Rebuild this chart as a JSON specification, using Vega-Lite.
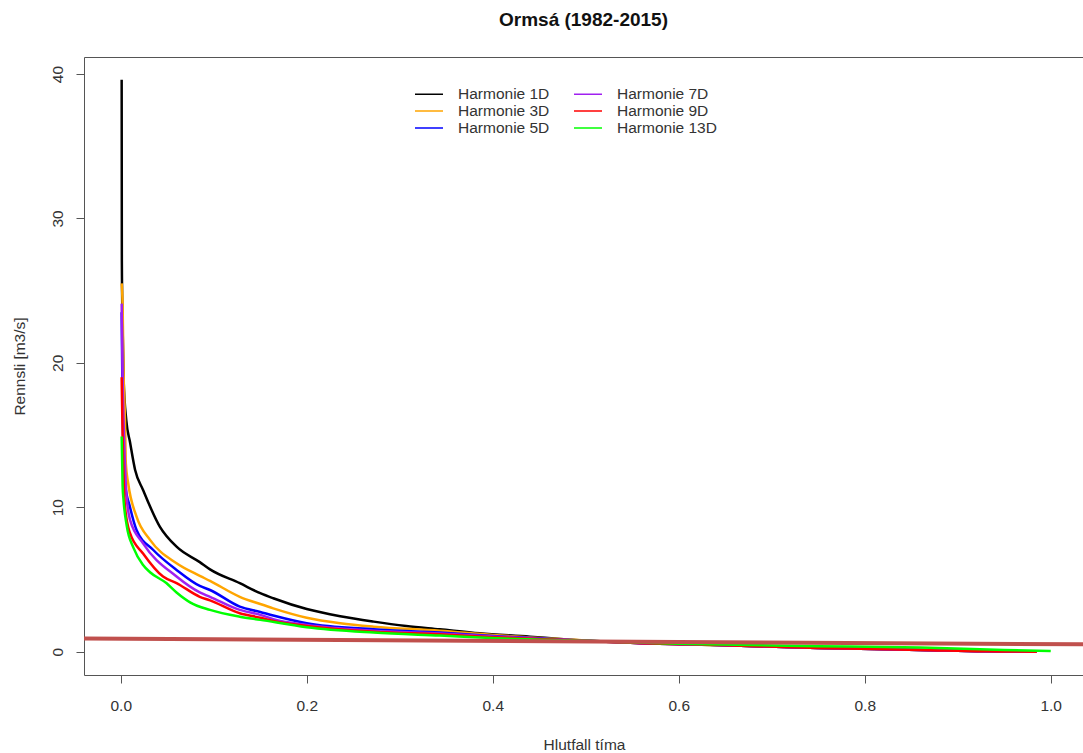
{
  "$schema": "https://vega.github.io/schema/vega-lite/v6.json",
  "autosize": {"type": "none"},
  "padding": {"left": 84, "top": 57, "right": 0, "bottom": 78},
  "width": 999,
  "height": 618,
  "title": {"text": "Ormsá (1982-2015)", "font": "Liberation Sans", "fontSize": 19, "fontWeight": "bold", "color": "#111", "anchor": "middle", "baseline": "alphabetic", "offset": 12},
  "datasets": {
    "fdc": [
      {"s": "Harmonie 1D", "p": 0.001, "q": 39.6},
      {"s": "Harmonie 1D", "p": 0.0012, "q": 27.1},
      {"s": "Harmonie 1D", "p": 0.002, "q": 22.5},
      {"s": "Harmonie 1D", "p": 0.003, "q": 19.0},
      {"s": "Harmonie 1D", "p": 0.006, "q": 16.0},
      {"s": "Harmonie 1D", "p": 0.010, "q": 14.5},
      {"s": "Harmonie 1D", "p": 0.0154, "q": 12.6},
      {"s": "Harmonie 1D", "p": 0.024, "q": 11.2},
      {"s": "Harmonie 1D", "p": 0.042, "q": 8.66},
      {"s": "Harmonie 1D", "p": 0.06, "q": 7.27},
      {"s": "Harmonie 1D", "p": 0.085, "q": 6.2},
      {"s": "Harmonie 1D", "p": 0.096, "q": 5.7},
      {"s": "Harmonie 1D", "p": 0.128, "q": 4.74},
      {"s": "Harmonie 1D", "p": 0.15, "q": 4.05},
      {"s": "Harmonie 1D", "p": 0.164, "q": 3.7},
      {"s": "Harmonie 1D", "p": 0.2, "q": 2.95},
      {"s": "Harmonie 1D", "p": 0.236, "q": 2.45},
      {"s": "Harmonie 1D", "p": 0.272, "q": 2.08},
      {"s": "Harmonie 1D", "p": 0.307, "q": 1.78},
      {"s": "Harmonie 1D", "p": 0.343, "q": 1.55},
      {"s": "Harmonie 1D", "p": 0.386, "q": 1.27},
      {"s": "Harmonie 1D", "p": 0.44, "q": 1.04},
      {"s": "Harmonie 1D", "p": 0.476, "q": 0.86},
      {"s": "Harmonie 1D", "p": 0.555, "q": 0.6},
      {"s": "Harmonie 1D", "p": 0.65, "q": 0.45},
      {"s": "Harmonie 1D", "p": 0.75, "q": 0.25},
      {"s": "Harmonie 1D", "p": 0.86, "q": 0.12},
      {"s": "Harmonie 1D", "p": 0.93, "q": 0.02},
      {"s": "Harmonie 1D", "p": 0.985, "q": 0.0},

      {"s": "Harmonie 3D", "p": 0.001, "q": 25.5},
      {"s": "Harmonie 3D", "p": 0.002, "q": 24.0},
      {"s": "Harmonie 3D", "p": 0.003, "q": 19.5},
      {"s": "Harmonie 3D", "p": 0.0046, "q": 16.0},
      {"s": "Harmonie 3D", "p": 0.0055, "q": 13.0},
      {"s": "Harmonie 3D", "p": 0.008, "q": 11.66},
      {"s": "Harmonie 3D", "p": 0.017, "q": 9.35},
      {"s": "Harmonie 3D", "p": 0.0315, "q": 7.74},
      {"s": "Harmonie 3D", "p": 0.06, "q": 6.12},
      {"s": "Harmonie 3D", "p": 0.085, "q": 5.25},
      {"s": "Harmonie 3D", "p": 0.096, "q": 4.9},
      {"s": "Harmonie 3D", "p": 0.128, "q": 3.8},
      {"s": "Harmonie 3D", "p": 0.15, "q": 3.3},
      {"s": "Harmonie 3D", "p": 0.164, "q": 3.0},
      {"s": "Harmonie 3D", "p": 0.2, "q": 2.35},
      {"s": "Harmonie 3D", "p": 0.236, "q": 1.97},
      {"s": "Harmonie 3D", "p": 0.272, "q": 1.73},
      {"s": "Harmonie 3D", "p": 0.343, "q": 1.45},
      {"s": "Harmonie 3D", "p": 0.4, "q": 1.15},
      {"s": "Harmonie 3D", "p": 0.45, "q": 0.95},
      {"s": "Harmonie 3D", "p": 0.5, "q": 0.78},
      {"s": "Harmonie 3D", "p": 0.555, "q": 0.6},
      {"s": "Harmonie 3D", "p": 0.65, "q": 0.45},
      {"s": "Harmonie 3D", "p": 0.75, "q": 0.25},
      {"s": "Harmonie 3D", "p": 0.86, "q": 0.12},
      {"s": "Harmonie 3D", "p": 0.93, "q": 0.02},
      {"s": "Harmonie 3D", "p": 0.985, "q": 0.0},

      {"s": "Harmonie 5D", "p": 0.001, "q": 23.5},
      {"s": "Harmonie 5D", "p": 0.002, "q": 17.0},
      {"s": "Harmonie 5D", "p": 0.0035, "q": 13.0},
      {"s": "Harmonie 5D", "p": 0.0046, "q": 11.66},
      {"s": "Harmonie 5D", "p": 0.010, "q": 10.0},
      {"s": "Harmonie 5D", "p": 0.017, "q": 8.43},
      {"s": "Harmonie 5D", "p": 0.035, "q": 7.04},
      {"s": "Harmonie 5D", "p": 0.06, "q": 5.66},
      {"s": "Harmonie 5D", "p": 0.085, "q": 4.55},
      {"s": "Harmonie 5D", "p": 0.096, "q": 4.27},
      {"s": "Harmonie 5D", "p": 0.128, "q": 3.12},
      {"s": "Harmonie 5D", "p": 0.15, "q": 2.75},
      {"s": "Harmonie 5D", "p": 0.164, "q": 2.5},
      {"s": "Harmonie 5D", "p": 0.2, "q": 1.97},
      {"s": "Harmonie 5D", "p": 0.272, "q": 1.55},
      {"s": "Harmonie 5D", "p": 0.343, "q": 1.32},
      {"s": "Harmonie 5D", "p": 0.4, "q": 1.08},
      {"s": "Harmonie 5D", "p": 0.45, "q": 0.92},
      {"s": "Harmonie 5D", "p": 0.5, "q": 0.76},
      {"s": "Harmonie 5D", "p": 0.555, "q": 0.6},
      {"s": "Harmonie 5D", "p": 0.65, "q": 0.45},
      {"s": "Harmonie 5D", "p": 0.75, "q": 0.25},
      {"s": "Harmonie 5D", "p": 0.86, "q": 0.12},
      {"s": "Harmonie 5D", "p": 0.93, "q": 0.02},
      {"s": "Harmonie 5D", "p": 0.985, "q": 0.0},

      {"s": "Harmonie 7D", "p": 0.001, "q": 24.1},
      {"s": "Harmonie 7D", "p": 0.002, "q": 19.0},
      {"s": "Harmonie 7D", "p": 0.004, "q": 14.0},
      {"s": "Harmonie 7D", "p": 0.006, "q": 11.0},
      {"s": "Harmonie 7D", "p": 0.010, "q": 9.12},
      {"s": "Harmonie 7D", "p": 0.024, "q": 7.5},
      {"s": "Harmonie 7D", "p": 0.06, "q": 5.2},
      {"s": "Harmonie 7D", "p": 0.085, "q": 4.1},
      {"s": "Harmonie 7D", "p": 0.096, "q": 3.8},
      {"s": "Harmonie 7D", "p": 0.128, "q": 2.89},
      {"s": "Harmonie 7D", "p": 0.15, "q": 2.55},
      {"s": "Harmonie 7D", "p": 0.164, "q": 2.25},
      {"s": "Harmonie 7D", "p": 0.2, "q": 1.85},
      {"s": "Harmonie 7D", "p": 0.272, "q": 1.45},
      {"s": "Harmonie 7D", "p": 0.343, "q": 1.25},
      {"s": "Harmonie 7D", "p": 0.4, "q": 1.05},
      {"s": "Harmonie 7D", "p": 0.45, "q": 0.9},
      {"s": "Harmonie 7D", "p": 0.5, "q": 0.75},
      {"s": "Harmonie 7D", "p": 0.555, "q": 0.6},
      {"s": "Harmonie 7D", "p": 0.65, "q": 0.45},
      {"s": "Harmonie 7D", "p": 0.75, "q": 0.25},
      {"s": "Harmonie 7D", "p": 0.86, "q": 0.12},
      {"s": "Harmonie 7D", "p": 0.93, "q": 0.02},
      {"s": "Harmonie 7D", "p": 0.985, "q": 0.0},

      {"s": "Harmonie 9D", "p": 0.001, "q": 19.0},
      {"s": "Harmonie 9D", "p": 0.002, "q": 15.0},
      {"s": "Harmonie 9D", "p": 0.0046, "q": 10.0},
      {"s": "Harmonie 9D", "p": 0.010, "q": 8.2},
      {"s": "Harmonie 9D", "p": 0.024, "q": 6.8},
      {"s": "Harmonie 9D", "p": 0.0455, "q": 5.2},
      {"s": "Harmonie 9D", "p": 0.06, "q": 4.75},
      {"s": "Harmonie 9D", "p": 0.085, "q": 3.8},
      {"s": "Harmonie 9D", "p": 0.096, "q": 3.55},
      {"s": "Harmonie 9D", "p": 0.128, "q": 2.66},
      {"s": "Harmonie 9D", "p": 0.15, "q": 2.35},
      {"s": "Harmonie 9D", "p": 0.164, "q": 2.12},
      {"s": "Harmonie 9D", "p": 0.2, "q": 1.78},
      {"s": "Harmonie 9D", "p": 0.272, "q": 1.38},
      {"s": "Harmonie 9D", "p": 0.343, "q": 1.2},
      {"s": "Harmonie 9D", "p": 0.4, "q": 1.0},
      {"s": "Harmonie 9D", "p": 0.45, "q": 0.88},
      {"s": "Harmonie 9D", "p": 0.5, "q": 0.74},
      {"s": "Harmonie 9D", "p": 0.555, "q": 0.6},
      {"s": "Harmonie 9D", "p": 0.65, "q": 0.45},
      {"s": "Harmonie 9D", "p": 0.75, "q": 0.25},
      {"s": "Harmonie 9D", "p": 0.86, "q": 0.12},
      {"s": "Harmonie 9D", "p": 0.93, "q": 0.02},
      {"s": "Harmonie 9D", "p": 0.985, "q": 0.0},

      {"s": "Harmonie 13D", "p": 0.001, "q": 14.9},
      {"s": "Harmonie 13D", "p": 0.002, "q": 11.5},
      {"s": "Harmonie 13D", "p": 0.003, "q": 10.5},
      {"s": "Harmonie 13D", "p": 0.0065, "q": 8.7},
      {"s": "Harmonie 13D", "p": 0.0136, "q": 7.2},
      {"s": "Harmonie 13D", "p": 0.024, "q": 6.0},
      {"s": "Harmonie 13D", "p": 0.0315, "q": 5.5},
      {"s": "Harmonie 13D", "p": 0.049, "q": 4.75},
      {"s": "Harmonie 13D", "p": 0.06, "q": 4.1},
      {"s": "Harmonie 13D", "p": 0.075, "q": 3.4},
      {"s": "Harmonie 13D", "p": 0.096, "q": 2.89},
      {"s": "Harmonie 13D", "p": 0.128, "q": 2.42},
      {"s": "Harmonie 13D", "p": 0.15, "q": 2.2},
      {"s": "Harmonie 13D", "p": 0.2, "q": 1.69},
      {"s": "Harmonie 13D", "p": 0.272, "q": 1.32},
      {"s": "Harmonie 13D", "p": 0.343, "q": 1.11},
      {"s": "Harmonie 13D", "p": 0.404, "q": 0.93},
      {"s": "Harmonie 13D", "p": 0.5, "q": 0.75},
      {"s": "Harmonie 13D", "p": 0.6, "q": 0.55},
      {"s": "Harmonie 13D", "p": 0.75, "q": 0.38},
      {"s": "Harmonie 13D", "p": 0.86, "q": 0.28},
      {"s": "Harmonie 13D", "p": 0.95, "q": 0.12},
      {"s": "Harmonie 13D", "p": 1.0, "q": 0.05}
    ],
    "ab": [
      {"p": -0.0395, "q": 0.91},
      {"p": 1.0347, "q": 0.51}
    ]
  },
  "layer": [
    {
      "data": {"name": "fdc"},
      "mark": {"type": "line", "strokeWidth": 2.5, "clip": true, "interpolate": "monotone"},
      "encoding": {
        "x": {"field": "p", "type": "quantitative",
              "scale": {"domain": [-0.0395, 1.0347], "nice": false, "zero": false},
              "axis": {"values": [0, 0.2, 0.4, 0.6, 0.8, 1.0], "format": ".1f", "labelBaseline": "alphabetic", "labelPadding": 27, "labelFlush": false, "labelOverlap": false,
                       "title": "Hlutfall tíma", "titleX": 500, "titleY": 74.5, "titleBaseline": "alphabetic", "titleAlign": "center"}},
        "y": {"field": "q", "type": "quantitative",
              "scale": {"domain": [-1.617, 41.18], "nice": false, "zero": false},
              "axis": {"values": [0, 10, 20, 30, 40], "labelAngle": 270, "labelAlign": "center", "labelBaseline": "alphabetic", "labelPadding": 13.5, "labelFlush": false, "labelOverlap": false,
                       "title": "Rennsli [m3/s]", "titleAngle": 270, "titleX": -59.5, "titleY": 309, "titleBaseline": "alphabetic", "titleAlign": "center"}},
        "color": {"field": "s", "type": "nominal",
                  "scale": {"domain": ["Harmonie 1D", "Harmonie 3D", "Harmonie 5D", "Harmonie 7D", "Harmonie 9D", "Harmonie 13D"],
                            "range": ["#000000", "#FFA500", "#0000FF", "#A020F0", "#FF0000", "#00FF00"]},
                  "legend": {"orient": "none", "legendX": 337, "legendY": 29, "columns": 2, "title": null, "symbolType": "M-2,0H2", "symbolSize": 196, "symbolStrokeWidth": 1.5, "symbolFillColor": "transparent",
                             "labelFont": "Liberation Sans", "labelFontSize": 15.5, "labelColor": "#333", "labelOffset": 21, "columnPadding": 21, "rowPadding": -0.5, "padding": 0}}
      }
    },
    {
      "data": {"name": "ab"},
      "mark": {"type": "line", "color": "#C0504D", "strokeWidth": 4, "clip": true},
      "encoding": {
        "x": {"field": "p", "type": "quantitative",
              "axis": {"orient": "top", "labels": false, "ticks": false, "domain": true, "title": null}},
        "y": {"field": "q", "type": "quantitative"}
      }
    }
  ],
  "resolve": {"axis": {"x": "independent"}},
  "config": {
    "view": {"stroke": null},
    "axis": {"grid": false, "domainColor": "#555", "tickColor": "#555", "labelColor": "#333", "titleColor": "#333",
             "labelFont": "Liberation Sans", "titleFont": "Liberation Sans", "labelFontSize": 15.5, "titleFontSize": 15.5,
             "titleFontWeight": "normal", "tickSize": 8, "domainWidth": 1, "tickWidth": 1}
  }
}
